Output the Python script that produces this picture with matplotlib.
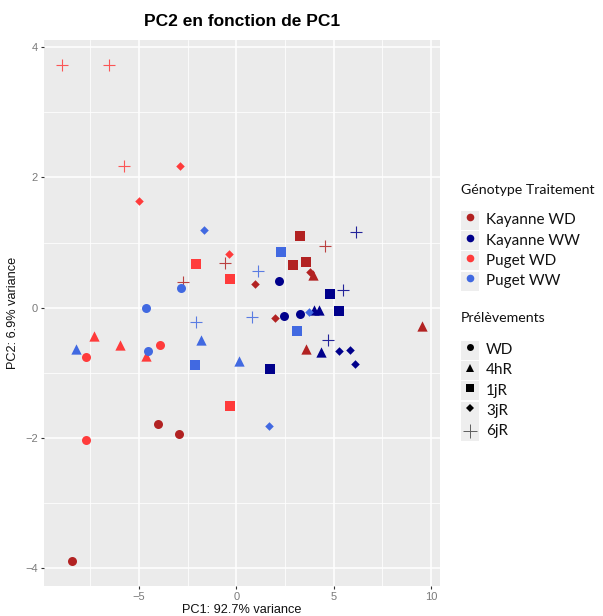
import matplotlib
matplotlib.use("Agg")
import matplotlib.pyplot as plt
from matplotlib.patches import Rectangle
from matplotlib.lines import Line2D

# ---------------- data ----------------
groups = ["Kayanne WD", "Kayanne WW", "Puget WD", "Puget WW"]
group_colors = ["#B22222", "#00008B", "#FF3B3B", "#4169E1"]
times = ["WD", "4hR", "1jR", "3jR", "6jR"]
time_markers = ["o", "^", "s", "D", "+"]

# PC1 / PC2 per group, per sampling time (3 replicates each)
kwd_pc1 = {"WD": [-4.01, -2.94, -8.45], "4hR": [3.95, 9.55, 3.58], "1jR": [3.27, 2.91, 3.60],
           "3jR": [0.98, 2.00, 3.79], "6jR": [-2.72, -0.58, 4.54]}
kwd_pc2 = {"WD": [-1.79, -1.93, -3.89], "4hR": [0.50, -0.28, -0.64], "1jR": [1.10, 0.66, 0.70],
           "3jR": [0.36, -0.15, 0.55], "6jR": [0.39, 0.68, 0.95]}
kww_pc1 = {"WD": [2.21, 2.47, 3.27], "4hR": [4.01, 4.26, 4.35], "1jR": [4.80, 5.29, 1.72],
           "3jR": [5.26, 5.84, 6.08], "6jR": [6.15, 5.46, 4.69]}
kww_pc2 = {"WD": [0.41, -0.12, -0.09], "4hR": [-0.04, -0.03, -0.68], "1jR": [0.21, -0.05, -0.94],
           "3jR": [-0.67, -0.65, -0.86], "6jR": [1.17, 0.28, -0.50]}
pwd_pc1 = {"WD": [-7.72, -3.92, -7.70], "4hR": [-7.29, -5.97, -4.64], "1jR": [-2.07, -0.32, -0.34],
           "3jR": [-2.89, -5.00, -0.39], "6jR": [-8.94, -6.52, -5.78]}
pwd_pc2 = {"WD": [-0.75, -0.57, -2.03], "4hR": [-0.44, -0.57, -0.74], "1jR": [0.67, 0.44, -1.50],
           "3jR": [2.18, 1.64, 0.83], "6jR": [3.73, 3.73, 2.18]}
pww_pc1 = {"WD": [-2.86, -4.64, -4.55], "4hR": [-1.84, -8.23, 0.15], "1jR": [2.30, 3.10, -2.11],
           "3jR": [-1.65, 3.75, 1.69], "6jR": [1.13, -2.05, 0.82]}
pww_pc2 = {"WD": [0.30, 0.00, -0.66], "4hR": [-0.49, -0.64, -0.81], "1jR": [0.85, -0.35, -0.88],
           "3jR": [1.20, -0.07, -1.81], "6jR": [0.57, -0.22, -0.14]}

pc1_all = [kwd_pc1, kww_pc1, pwd_pc1, pww_pc1]
pc2_all = [kwd_pc2, kww_pc2, pwd_pc2, pww_pc2]

x_ticks = [-5, 0, 5, 10]
y_ticks = [-4, -2, 0, 2, 4]

title = "PC2 en fonction de PC1"
xlabel = "PC1: 92.7% variance"
ylabel = "PC2: 6.9% variance"
legend1_title = "Génotype Traitement"
legend2_title = "Prélèvements"

# ---------------- figure ----------------
W, H = 603, 616
fig = plt.figure(figsize=(W / 100, H / 100), dpi=100)

def fx(px):
    return px / W

def fy(py):
    return 1 - py / H

ax = fig.add_axes([fx(44), fy(586), fx(440) - fx(44), fy(40) - fy(586)])
ax.set_facecolor("#EBEBEB")
for s in ax.spines.values():
    s.set_visible(False)

ax.set_xlim(-9.88, 10.46)
ax.set_ylim(-4.27, 4.11)
ax.set_xticks(x_ticks)
ax.set_yticks(y_ticks)
ax.set_xticks([-7.5, -2.5, 2.5, 7.5], minor=True)
ax.set_yticks([-3, -1, 1, 3], minor=True)
ax.set_xticklabels(["\u22125", "0", "5", "10"])
ax.set_yticklabels(["\u22124", "\u22122", "0", "2", "4"])
ax.grid(which="major", color="white", linewidth=1.1)
ax.grid(which="minor", color="white", linewidth=0.55)
ax.set_axisbelow(True)
ax.tick_params(which="major", length=2.5, width=0.8, color="#333333",
               labelsize=8, labelcolor="#7A7A7A", pad=2)
ax.tick_params(which="minor", length=0)
for lab in ax.get_xticklabels() + ax.get_yticklabels():
    lab.set_family("Liberation Sans")

sizes = {"o": 42, "^": 55, "s": 42, "D": 19, "+": 85}
for gi, g in enumerate(groups):
    for ti, t in enumerate(times):
        m = time_markers[ti]
        xs = pc1_all[gi][t]
        ys = pc2_all[gi][t]
        if m == "+":
            ax.scatter(xs, ys, marker=m, s=sizes[m], color=group_colors[gi],
                       linewidths=0.8, alpha=0.85, zorder=3)
        else:
            ax.scatter(xs, ys, marker=m, s=sizes[m], color=group_colors[gi],
                       linewidths=0, zorder=3)

ax.set_title(title, fontsize=12.5, fontweight="bold", family="Liberation Sans",
             pad=10)
ax.set_xlabel(xlabel, fontsize=9.2, family="Liberation Sans", color="#111111", labelpad=1)
ax.set_ylabel(ylabel, fontsize=9.2, family="Liberation Sans", color="#111111", labelpad=4)

# ---------------- legends (drawn manually) ----------------
leg_font = "Lato"
leg_size = 11
leg_title_size = 10.2
key_x0, key_x1 = 461, 479
text_x = 486

def draw_legend(title_txt, title_y, rows_y, labels, markers, colors, msizes):
    fig.text(fx(key_x0), fy(title_y), title_txt, family=leg_font, fontsize=leg_title_size,
             va="center", ha="left", color="#111111")
    for yy, lab, mk, col, ms in zip(rows_y, labels, markers, colors, msizes):
        fig.add_artist(Rectangle((fx(key_x0), fy(yy + 9.5)), fx(key_x1) - fx(key_x0),
                                 fy(yy - 9.5) - fy(yy + 9.5), transform=fig.transFigure,
                                 facecolor="#EEEEEE", edgecolor="none"))
        if mk == "+":
            fig.add_artist(Line2D([fx((key_x0 + key_x1) / 2)], [fy(yy)], marker=mk,
                                  markersize=ms, color=col, markeredgewidth=0.7,
                                  alpha=0.6, transform=fig.transFigure))
        else:
            fig.add_artist(Line2D([fx((key_x0 + key_x1) / 2)], [fy(yy - 3)], marker=mk,
                                  markersize=ms, color=col, markeredgewidth=0,
                                  transform=fig.transFigure))
        fig.text(fx(text_x), fy(yy), lab, family=leg_font, fontsize=leg_size,
                 va="center", ha="left", color="#111111")

draw_legend(legend1_title, 190, [220, 240.5, 260.5, 281], groups, ["o"] * 4,
            group_colors, [5.5] * 4)
draw_legend(legend2_title, 318, [350, 370.5, 390.5, 411, 431], times, time_markers,
            ["black"] * 5, [5, 6, 5.5, 4, 10])

fig.savefig("out.png", dpi=100)
